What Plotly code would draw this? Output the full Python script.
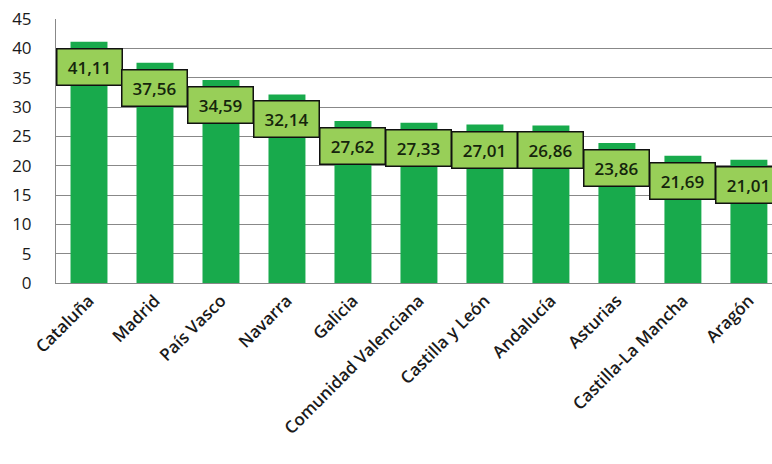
import plotly.graph_objects as go

# Regional values (comma is the decimal separator in the labels)
regiones = ["Cataluña", "Madrid", "País Vasco", "Navarra", "Galicia",
            "Comunidad Valenciana", "Castilla y León", "Andalucía",
            "Asturias", "Castilla-La Mancha", "Aragón"]
valores = [41.11, 37.56, 34.59, 32.14, 27.62, 27.33, 27.01, 26.86,
           23.86, 21.69, 21.01]
y_ticks = [0, 5, 10, 15, 20, 25, 30, 35, 40, 45]

bar_color = "#18aa4c"
box_color = "#98cf58"
grid_color = "#888888"
font_family = "Open Sans, Noto Sans, sans-serif"

fig = go.Figure(
    go.Bar(
        x=regiones,
        y=valores,
        marker=dict(color=bar_color, line=dict(width=0)),
        hoverinfo="skip",
    )
)

# Value boxes sitting just below each bar top
for reg, val in zip(regiones, valores):
    fig.add_annotation(
        x=reg, y=val, yshift=-25,
        text=f"{val:.2f}".replace(".", ","),
        showarrow=False,
        font=dict(family=font_family, size=17, color="#15250c", weight=600),
        bgcolor=box_color,
        bordercolor="#111111",
        borderwidth=1.5,
        borderpad=6,
        width=52,
        xanchor="center",
        yanchor="middle",
    )

fig.update_layout(
    width=772,
    height=464,
    margin=dict(l=56, r=0, t=19, b=181),
    paper_bgcolor="white",
    plot_bgcolor="white",
    bargap=0.44,
    showlegend=False,
    xaxis=dict(
        range=[-0.5, 10.35],
        tickangle=-45,
        tickfont=dict(family=font_family, size=17, color="#1a1a1a", weight=600),
        showline=True, linecolor=grid_color, linewidth=1,
        showgrid=False,
        ticks="",
        fixedrange=True,
    ),
    yaxis=dict(
        range=[0, 45],
        tickvals=y_ticks,
        tickfont=dict(family=font_family, size=17, color="#1a1a1a"),
        ticklabelstandoff=20,
        showgrid=True, gridcolor=grid_color, gridwidth=1,
        showline=True, linecolor=grid_color, linewidth=1,
        zeroline=False,
        ticks="",
        fixedrange=True,
    ),
)

fig.write_html("out.html")
